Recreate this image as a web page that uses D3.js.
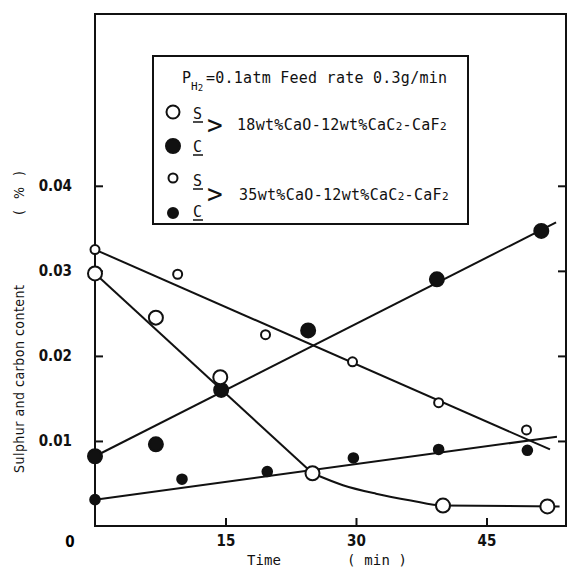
<!DOCTYPE html>
<html>
<head>
<meta charset="utf-8">
<script src="https://cdn.jsdelivr.net/npm/d3@7"></script>
<style>
  body { margin: 0; background: #fff; }
  svg { display: block; }
  .tick text { font-family: "DejaVu Sans Condensed", "DejaVu Sans", sans-serif; font-weight: bold; font-size: 14px; fill: #111; }
  .mono { font-family: "DejaVu Sans Mono", monospace; fill: #111; }
  .cond { font-family: "DejaVu Sans Condensed", "DejaVu Sans", sans-serif; fill: #111; }
</style>
</head>
<body>
<div id="chart"></div>
<script>
// values: [time (min), content (%)]
const s18 = [[0, 0.0297], [7, 0.0245], [14.4, 0.0175], [25, 0.0062], [40, 0.0024], [52, 0.0023]];
const c18 = [[0, 0.0082], [7, 0.0096], [14.5, 0.0160], [24.5, 0.0230], [39.3, 0.0290], [51.3, 0.0347]];
const s35 = [[0, 0.0325], [9.5, 0.0296], [19.6, 0.0225], [29.6, 0.0193], [39.5, 0.0145], [49.6, 0.0113]];
const c35 = [[0, 0.0031], [10, 0.0055], [19.8, 0.0064], [29.7, 0.0080], [39.5, 0.0090], [49.7, 0.0089]];

// drawn fit lines (as traced in the figure)
const s18FitLine = [[0, 0.0297], [25, 0.0062]];
const s18FitTail = [[25, 0.0062], [28.5, 0.0048], [32.3, 0.0038], [36.3, 0.0030], [40, 0.0024], [53.4, 0.0023]];
const c18Fit = [[0, 0.0082], [53, 0.0357]];
const s35Fit = [[0, 0.0325], [52.3, 0.0090]];
const c35Fit = [[0, 0.0031], [53.1, 0.0105]];

const xTicks = [15, 30, 45];
const yTicks = [0.01, 0.02, 0.03, 0.04];

const width = 571, height = 571;
const plotL = 95, plotR = 566, plotT = 14, plotB = 526;

const svg = d3.select("#chart").append("svg")
  .attr("width", width).attr("height", height);

const x = d3.scaleLinear().domain([0, 54.14]).range([plotL, plotR]);
const y = d3.scaleLinear().domain([0, 0.0602]).range([plotB, plotT]);

//frame
svg.append("rect")
  .attr("x", plotL).attr("y", plotT)
  .attr("width", plotR - plotL).attr("height", plotB - plotT)
  .attr("fill", "none").attr("stroke", "#111").attr("stroke-width", 2);

//axes, ticks pointing inward
const yAxis = svg.append("g").attr("transform", "translate(" + plotL + ",0)")
  .call(d3.axisLeft(y).tickValues(yTicks).tickSize(-8).tickPadding(23).tickFormat(d3.format(".2f")));
const yAxisR = svg.append("g").attr("transform", "translate(" + plotR + ",0)")
  .call(d3.axisRight(y).tickValues(yTicks).tickSize(-8).tickFormat(""));
const xAxis = svg.append("g").attr("transform", "translate(0," + plotB + ")")
  .call(d3.axisBottom(x).tickValues(xTicks).tickSize(-8).tickPadding(9));
[yAxis, yAxisR, xAxis].forEach(function(g){
  g.select(".domain").remove();
  g.selectAll("line").attr("stroke", "#111").attr("stroke-width", 2);
});
yAxis.selectAll("text").style("font-size", "15px");
xAxis.selectAll("text").style("font-size", "15px");

svg.append("text")
  .attr("x", 70).attr("y", 547)
  .attr("text-anchor", "middle")
  .style("font-family", "DejaVu Sans Condensed, DejaVu Sans, sans-serif")
  .style("font-weight", "bold").style("font-size", "15px")
  .text("0");

//axis titles
svg.append("text").attr("class", "cond")
  .attr("transform", "translate(24,473) rotate(-90)")
  .attr("font-size", 14)
  .attr("textLength", 188)
  .text("Sulphur and carbon content");
svg.append("text").attr("class", "cond")
  .attr("transform", "translate(24,215) rotate(-90)")
  .attr("font-size", 14)
  .attr("textLength", 44)
  .attr("xml:space", "preserve")
  .text("( % )");

svg.append("text").attr("class", "mono")
  .attr("x", 247).attr("y", 565).attr("font-size", 14)
  .attr("textLength", 34)
  .text("Time");
svg.append("text").attr("class", "mono")
  .attr("x", 347).attr("y", 565).attr("font-size", 14)
  .attr("textLength", 60)
  .attr("xml:space", "preserve")
  .text("( min )");

//fit lines
const line = d3.line().x(function(d){ return x(d[0]); }).y(function(d){ return y(d[1]); });
const curve = d3.line().x(function(d){ return x(d[0]); }).y(function(d){ return y(d[1]); }).curve(d3.curveMonotoneX);

svg.append("path").datum(s18FitTail).attr("d", curve)
  .attr("fill", "none").attr("stroke", "#111").attr("stroke-width", 2);
[s18FitLine, c18Fit, s35Fit, c35Fit].forEach(function(f){
  svg.append("path").datum(f).attr("d", line)
    .attr("fill", "none").attr("stroke", "#111").attr("stroke-width", 2);
});

//markers
function marks(data, r, filled) {
  svg.append("g").selectAll("circle")
    .data(data)
    .enter().append("circle")
      .attr("cx", function(d){ return x(d[0]); })
      .attr("cy", function(d){ return y(d[1]); })
      .attr("r", r)
      .attr("fill", filled ? "#111" : "#fff")
      .attr("stroke", "#111")
      .attr("stroke-width", 2);
}
marks(s35, 4.5, false);
marks(c35, 4.8, true);
marks(c18, 7, true);
marks(s18, 7, false);

//legend
const lg = svg.append("g");
lg.append("rect")
  .attr("x", 153).attr("y", 56).attr("width", 315).attr("height", 168)
  .attr("fill", "#fff").attr("stroke", "#111").attr("stroke-width", 2);

const title = lg.append("text").attr("class", "mono").attr("font-size", 15)
  .attr("x", 182).attr("y", 83);
title.append("tspan").text("P");
title.append("tspan").attr("font-size", 11).attr("dy", 7).text("H");
title.append("tspan").attr("font-size", 9).attr("dy", 1).text("2");
title.append("tspan").attr("dy", -8).attr("x", 206).text("=0.1atm Feed rate 0.3g/min")
  .attr("textLength", 241);

const legendRows = [
  {cy: 112, r: 6.5, filled: false, letter: "S", ly: 119},
  {cy: 146, r: 7, filled: true, letter: "C", ly: 152},
  {cy: 178, r: 4.5, filled: false, letter: "S", ly: 186},
  {cy: 213, r: 5, filled: true, letter: "C", ly: 217}
];
legendRows.forEach(function(d){
  lg.append("circle").attr("cx", 173).attr("cy", d.cy).attr("r", d.r)
    .attr("fill", d.filled ? "#111" : "#fff").attr("stroke", "#111").attr("stroke-width", 2);
  lg.append("text").attr("class", "mono").attr("font-size", 15)
    .attr("x", 193).attr("y", d.ly).text(d.letter);
  lg.append("line").attr("x1", 193).attr("x2", 203)
    .attr("y1", d.ly + 3).attr("y2", d.ly + 3)
    .attr("stroke", "#111").attr("stroke-width", 1.5);
});

const comps = [
  {y: 130, gy: 134, x: 237, name: "18"},
  {y: 200, gy: 203, x: 239, name: "35"}
];
comps.forEach(function(d){
  lg.append("text").attr("class", "mono").attr("font-size", 26)
    .attr("x", 207).attr("y", d.gy).text(">");
  const t = lg.append("text").attr("class", "mono").attr("font-size", 15)
    .attr("x", d.x).attr("y", d.y).style("letter-spacing", "0.3px");
  t.append("tspan").text(d.name + "wt%CaO-12wt%CaC");
  t.append("tspan").attr("font-size", 11).text("2");
  t.append("tspan").text("-CaF");
  t.append("tspan").attr("font-size", 11).text("2");
});
</script>
</body>
</html>
